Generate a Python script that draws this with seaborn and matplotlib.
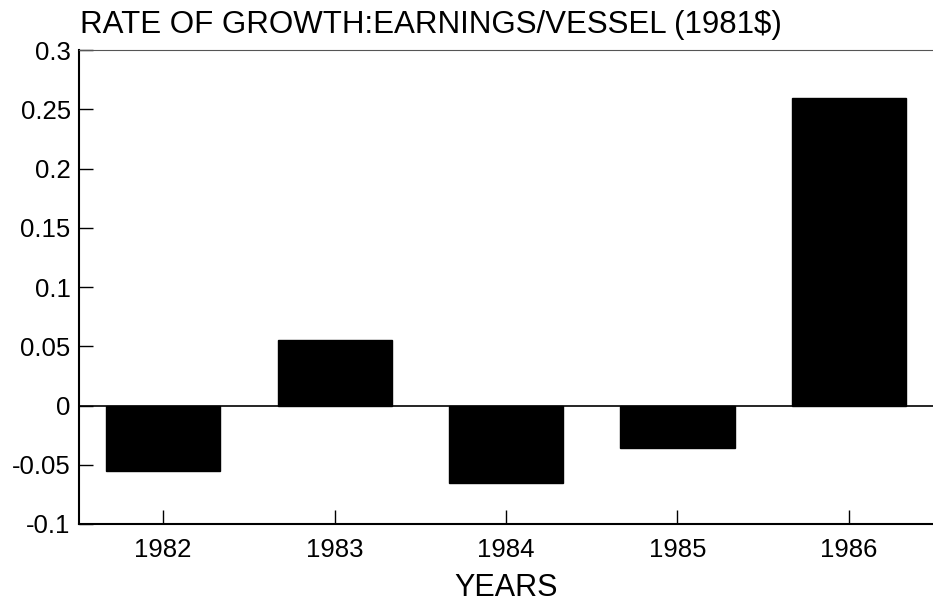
import matplotlib.pyplot as plt
import pandas as pd
import seaborn as sns

years = ["1982", "1983", "1984", "1985", "1986"]
growth = [-0.055, 0.055, -0.065, -0.036, 0.260]
y_ticks = [-0.1, -0.05, 0, 0.05, 0.1, 0.15, 0.2, 0.25, 0.3]
y_labels = ["-0.1", "-0.05", "0", "0.05", "0.1", "0.15", "0.2", "0.25", "0.3"]


def plot_growth(output_path: str = "out.png") -> None:
    sns.set_theme(style="white")
    plt.rcParams["font.family"] = ["Liberation Sans", "DejaVu Sans"]
    plt.rcParams["text.color"] = "black"
    plt.rcParams["axes.labelcolor"] = "black"
    df = pd.DataFrame({"year": years, "growth": growth})

    fig = plt.figure(figsize=(9.33, 6.04), dpi=100)
    ax = fig.add_axes([0.0847, 0.1325, 0.9153, 0.7845])
    sns.barplot(data=df, x="year", y="growth", color="black", saturation=1,
                width=0.665, edgecolor="black", ax=ax)

    ax.axhline(0, color="black", linewidth=1.2, zorder=3)
    ax.set_xlim(-0.49, 4.49)
    ax.set_ylim(-0.1, 0.3)
    ax.set_yticks(y_ticks)
    ax.set_yticklabels(y_labels)

    ax.tick_params(axis="both", direction="in", length=10, width=1, labelsize=18.5,
                   colors="black", pad=6, bottom=True, left=True)
    ax.tick_params(axis="x", pad=10)
    for side in ["left", "bottom"]:
        ax.spines[side].set_color("black")
        ax.spines[side].set_linewidth(1.5)
    ax.spines["top"].set_color("#555555")
    ax.spines["top"].set_linewidth(0.8)
    ax.spines["right"].set_visible(False)

    ax.set_xlabel("YEARS", fontsize=22, labelpad=8, color="black")
    ax.set_ylabel("")
    fig.text(0.0857, 0.945, "RATE OF GROWTH:EARNINGS/VESSEL (1981$)", fontsize=22.5,
             ha="left", va="baseline", color="black")

    fig.savefig(output_path, dpi=100)
    plt.close(fig)


if __name__ == "__main__":
    plot_growth()
